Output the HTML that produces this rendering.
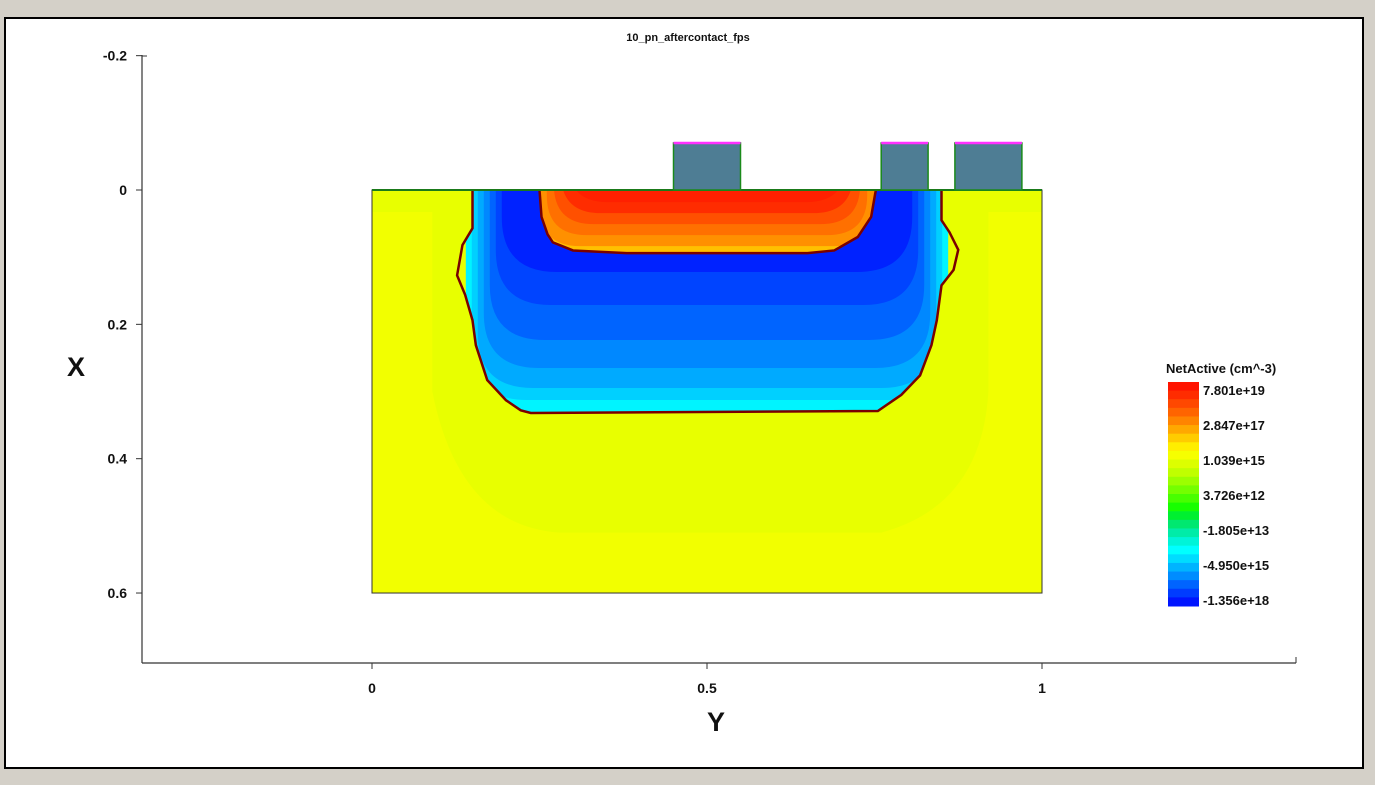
<!DOCTYPE html>
<html><head><meta charset="utf-8"><style>
html,body{margin:0;padding:0;background:#d4d0c8;width:1375px;height:785px;overflow:hidden}
svg{display:block}
text{font-family:"Liberation Sans",sans-serif;font-weight:bold;fill:#111}
</style></head><body>
<svg width="1375" height="785" id="svg">
<rect x="5" y="18" width="1358" height="750" fill="#fff" stroke="#000" stroke-width="2"/>
<text x="688" y="41" font-size="11" text-anchor="middle">10_pn_aftercontact_fps</text>
<text x="76" y="376" font-size="27" text-anchor="middle">X</text>
<text x="716" y="731" font-size="27" text-anchor="middle">Y</text>
<g id="field"></g>
<g id="axes"></g>
<g id="legend"></g>
</svg>
<script>
const yTicks = [-0.2, 0, 0.2, 0.4, 0.6];
const hTicks = [0, 0.5, 1];
const contactStart = [0.45, 0.76, 0.87];
const contactEnd = [0.55, 0.83, 0.97];
const contactTop = -0.07;
const junctionY = [0.15,0.15,0.135,0.127,0.139,0.15,0.155,0.172,0.2,0.222,0.237,0.755,0.79,0.818,0.835,0.843,0.85,0.868,0.875,0.862,0.85,0.85];
const junctionX = [0,0.057,0.082,0.127,0.156,0.194,0.231,0.283,0.313,0.328,0.332,0.329,0.305,0.276,0.231,0.194,0.142,0.119,0.089,0.063,0.045,0];
const pplusY = [0.25,0.253,0.262,0.27,0.3,0.38,0.65,0.69,0.725,0.745,0.752];
const pplusX = [0,0.04,0.066,0.078,0.09,0.094,0.094,0.09,0.07,0.04,0];
const legendLabels = ["7.801e+19","2.847e+17","1.039e+15","3.726e+12","-1.805e+13","-4.950e+15","-1.356e+18"];
const legendColors = ["#ff1400","#ff2c00","#ff4800","#ff6400","#ff8400","#ffa800","#ffcc00","#ffee00","#f6ff00","#dcff00","#c0ff00","#9cff00","#74ff00","#48ff00","#18ff00","#00f030","#00e870","#00eca8","#00f4d8","#00ffff","#00dcff","#00b4ff","#008cff","#0064ff","#003cff","#0014ff"];

const NS="http://www.w3.org/2000/svg";
const sx = v => 372 + v*670;
const sy = v => 190 + v*671.7;
function mk(tag, attrs, parent){const e=document.createElementNS(NS,tag);for(const k in attrs)e.setAttribute(k,attrs[k]);parent.appendChild(e);return e;}
const fieldG=document.getElementById('field'), axesG=document.getElementById('axes'), legendG=document.getElementById('legend');
const svgEl=document.getElementById('svg');
const defs=mk('defs',{},svgEl);

let sub=mk('rect',{x:sx(0),y:sy(0),width:sx(1)-sx(0),height:sy(0.6)-sy(0),fill:"#f2ff00"},fieldG);


let halo=mk('path',{d:`M${sx(0.09)},${sy(0)} L${sx(0.09)},${sy(0.3)} Q${sx(0.13)},${sy(0.5)} ${sx(0.28)},${sy(0.51)} L${sx(0.76)},${sy(0.51)} Q${sx(0.91)},${sy(0.47)} ${sx(0.92)},${sy(0.3)} L${sx(0.92)},${sy(0)} Z`,fill:"#e8ff00"},fieldG);


mk('rect',{x:sx(0),y:sy(0),width:670,height:22,fill:"#e8ff00"},fieldG);

function ptsPath(ys,xs){return ys.map((v,i)=>(i?'L':'M')+sx(v)+','+sy(xs[i])).join(' ')+' Z';}
const jPath=ptsPath(junctionY,junctionX);
const cp=mk('clipPath',{id:'jclip'},defs); mk('path',{d:jPath},cp);
const pPath=ptsPath(pplusY,pplusX);
const cp2=mk('clipPath',{id:'pclip'},defs); mk('path',{d:pPath},cp2);

const nw=mk('g',{'clip-path':'url(#jclip)'},fieldG);


const blues=["#00f4ff","#00d0ff","#00aaff","#0088ff","#0064ff","#0044ff","#0022ff"];
const blueBottoms=[420,400,388,368,340,305,272];
blues.forEach((c,k)=>{
  const l=sx(0.14)+k*6, r=sx(0.86)-k*6, b=blueBottoms[k], rad=55;
  mk('path',{d:`M${l},${sy(0)} L${l},${b-rad} Q${l},${b} ${l+rad},${b} L${r-rad},${b} Q${r},${b} ${r},${b-rad} L${r},${sy(0)} Z`,fill:c},nw);
});
const pp=mk('g',{'clip-path':'url(#pclip)'},fieldG);


const reds=["#ffc000","#ff9000","#ff7000","#ff5000","#ff2c00","#ff2000"];
reds.forEach((c,k)=>{
  const l=sx(0.24)+k*7, r=sx(0.76)-k*7, b=sy(0.1)-k*11, rad=40;
  mk('path',{d:`M${l},${sy(0)} L${l},${b-rad} Q${l},${b} ${l+rad},${b} L${r-rad},${b} Q${r},${b} ${r},${b-rad} L${r},${sy(0)} Z`,fill:c},pp);
});
let jl=mk('path',{d:jPath.replace(' Z',''),fill:"none",stroke:"#7a0000","stroke-width":2.5},fieldG);


let pl=mk('path',{d:pPath.replace(' Z',''),fill:"none",stroke:"#7a0000","stroke-width":2.5},fieldG);


mk('rect',{x:sx(0),y:sy(0),width:670,height:sy(0.6)-sy(0),fill:"none",stroke:"#333","stroke-width":1},fieldG);
let surf=mk('line',{x1:sx(0),x2:sx(1),y1:sy(0),y2:sy(0),stroke:"#1a7a1a","stroke-width":2},fieldG);



contactStart.forEach((a,i)=>{
  const b=contactEnd[i];
  const r=mk('rect',{x:sx(a),y:sy(contactTop),width:sx(b)-sx(a),height:sy(0)-sy(contactTop),fill:"#4e7d94",stroke:"#1a8a1a","stroke-width":1.5},fieldG);
  
  
  const t=mk('line',{x1:sx(a),x2:sx(b),y1:sy(contactTop),y2:sy(contactTop),stroke:"#ff30ff","stroke-width":2.5},fieldG);
  
  
});

mk('line',{x1:142,x2:142,y1:55,y2:663,stroke:"#333","stroke-width":1.2},axesG);
mk('line',{x1:142,x2:1296,y1:663,y2:663,stroke:"#333","stroke-width":1.2},axesG);
mk('line',{x1:142,x2:147,y1:56,y2:56,stroke:"#333"},axesG);
mk('line',{x1:1296,x2:1296,y1:663,y2:657,stroke:"#333"},axesG);
yTicks.forEach(v=>{
  const y=sy(v);
  mk('line',{x1:136,x2:142,y1:y,y2:y,stroke:"#333"},axesG);
  const t=mk('text',{x:127,y:y+5,'font-size':14,'text-anchor':'end'},axesG);
  t.textContent=String(v);
  
  
});
hTicks.forEach(v=>{
  const x=sx(v);
  mk('line',{x1:x,x2:x,y1:663,y2:669,stroke:"#333"},axesG);
  const t=mk('text',{x:x,y:693,'font-size':14,'text-anchor':'middle'},axesG);
  t.textContent=String(v);
  
  
});

const lt=mk('text',{x:1166,y:373,'font-size':13},legendG);
lt.textContent="NetActive (cm^-3)";


const lgTop=382, lgBot=606, lgH=(lgBot-lgTop)/legendColors.length;
legendColors.forEach((c,i)=>{
  const r=mk('rect',{x:1168,y:lgTop+i*lgH,width:31,height:lgH+0.5,fill:c},legendG);
  
  
});
legendLabels.forEach((s,i)=>{
  const t=mk('text',{x:1203,y:395+i*35,'font-size':13},legendG);
  t.textContent=s;
  
  
});
</script>
</body></html>
